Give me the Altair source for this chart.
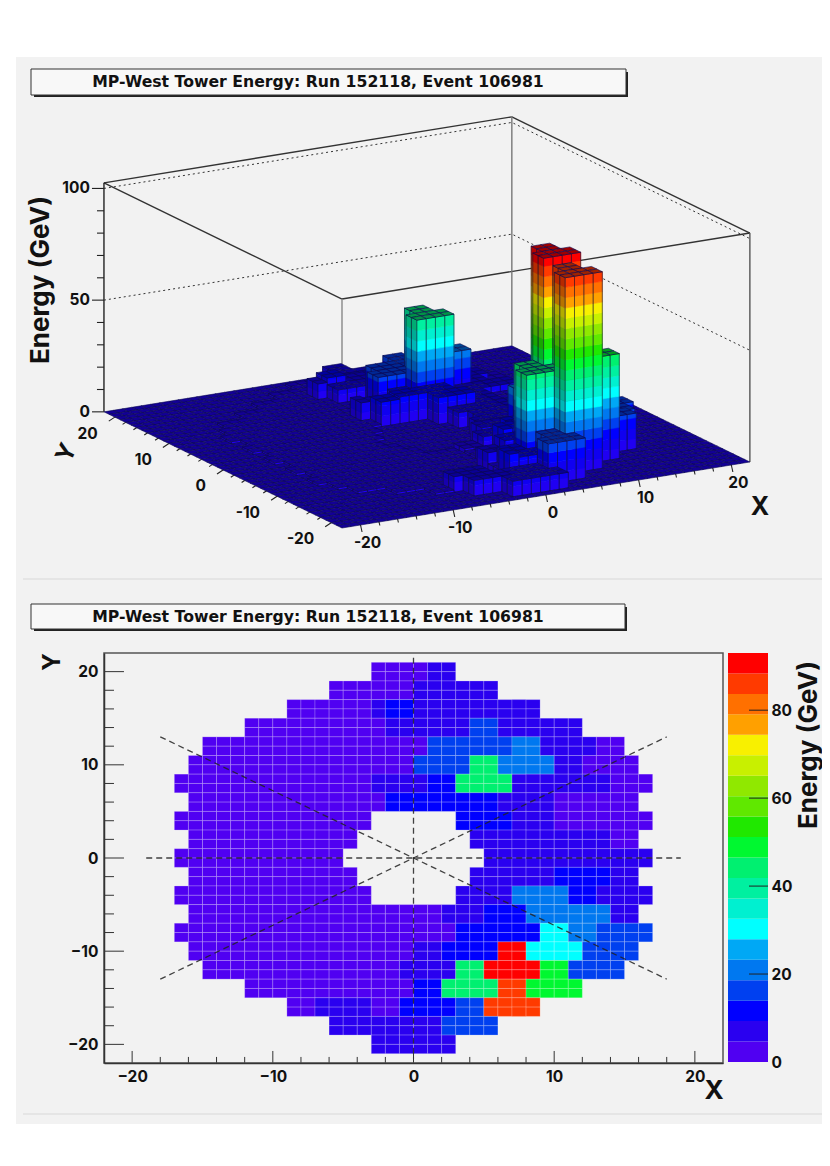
import altair as alt
import pandas as pd

TITLE = "MP-West Tower Energy: Run 152118, Event 106981"

# colour bands of the palette, bottom to top
PALETTE = [
    "#5000f2", "#2a00f0", "#0000ff", "#0040f0", "#0078f0",
    "#00a8f5", "#00ffff", "#00f0d0", "#00f0a0", "#00f070",
    "#00f830", "#20e800", "#60e800", "#90e800", "#c8f000",
    "#f8f000", "#ffa000", "#ff7000", "#ff3a00", "#ff0000",
]
E_MAX = 93

# towers: each row is 2 units tall, cells 1 unit wide
ROW_TOP = [21, 19, 17, 15, 13, 11, 9, 7, 5, 3, 1, -1, -3, -5, -7, -9, -11, -13, -15, -17, -19]
ROW_START = [-3, -6, -9, -12, -15, -16, -17, -16, -17, -16, -17, -16, -17, -16, -17, -16, -15, -12, -9, -6, -3]
H = [None]
ROW_ENERGY = [
    [1, 1, 1, 1, 6, 6],
    [1] * 6 + [6] * 6,
    [1] * 6 + [8, 10, 10] + [7] * 9,
    [1] * 10 + [7, 7] + [7] * 4 + [16, 16] + [7] * 6,
    [1] * 15 + [1] + [16] * 6 + [22, 22] + [7] * 4 + [4, 4],
    [1] * 15 + [4] + [16] * 4 + [42, 42] + [22] * 4 + [7, 7] + [4] + [1] * 3,
    [1] * 14 + [9] + [8, 8] + [6] + [10, 10] + [42] * 4 + [7] * 7 + [1] * 3,
    [1] * 14 + [11, 11] + [12] * 6 + [7] * 4 + [4] * 6,
    [1] * 14 + H * 6 + [12] * 4 + [7] * 3 + [4] * 7,
    [1] * 12 + H * 8 + [7] * 10 + [4, 4],
    [1] * 12 + H * 10 + [7] * 12,
    [1] * 12 + H * 8 + [7] * 6 + [11] * 4 + [7, 7],
    [1] * 14 + H * 6 + [8] * 4 + [22] * 4 + [12, 12] + [7] * 4,
    [1] * 16 + [3, 3] + [7] * 3 + [11] * 3 + [21] * 6 + [6, 6],
    [1] * 17 + [2] * 3 + [12] * 6 + [31, 31] + [20, 20] + [15] * 4,
    [1] * 16 + [6, 6] + [10] * 4 + [92, 92] + [31] * 4 + [15] * 4,
    [1] * 14 + [9] + [7] * 3 + [44, 44] + [92] * 4 + [47, 47] + [16] * 4,
    [1] * 11 + [4] + [11, 11] + [44] * 4 + [88, 88] + [47] * 4,
    [1, 1] + [7] * 4 + [3, 3] + [13] + [11] * 3 + [18, 18] + [88] * 4,
    [7] * 6 + [7, 7] + [18] * 4,
    [7] * 6,
]

AXIS_3D_TICKS = [-20, -10, 0, 10, 20]
AXIS_3D_MINOR = [-18, -16, -14, -12, -8, -6, -4, -2, 2, 4, 6, 8, 12, 14, 16, 18]
Z_TICKS = [0, 50, 100]
Z_MINOR = [10, 20, 30, 40, 60, 70, 80, 90]
MAP_TICKS = [-20, -10, 0, 10, 20]
MAP_MINOR = [-18, -16, -14, -12, -8, -6, -4, -2, 2, 4, 6, 8, 12, 14, 16, 18]
BAR_TICKS = [0, 20, 40, 60, 80]

SPOKE_X1 = [-19, 0, -18, -18]
SPOKE_X2 = [19, 0, 18, 18]
SPOKE_Y1 = [0, 21.5, 13, -13]
SPOKE_Y2 = [0, -21.5, -13, 13]

W, HT = 814, 1150
FONT = "Inter"
Z_TOP = 102.5

cells = {}
for top, start, vals in zip(ROW_TOP, ROW_START, ROW_ENERGY):
    for i, e in enumerate(vals):
        if e is not None:
            cells[(start + i, top - 1)] = e
            cells[(start + i, top - 2)] = e


def project(x, y, z):
    return [
        334 + 9.27 * (x + 22) - 5.41 * (y + 22),
        520 - 1.5 * (x + 22) - 2.64 * (y + 22) - 2.234 * z,
    ]


def shade(k, f):
    col = PALETTE[k]
    r, g, b = int(col[1:3], 16), int(col[3:5], 16), int(col[5:7], 16)
    red = 0.4 if k < 2 else 1.0
    return "#%02x%02x%02x" % (int(r * f * red), int(g * f), int(b * f))


def band(e):
    return min(int(e / (E_MAX / 20)), 19)


def feature(pts, fill, stroke, closed=True):
    if closed:
        geom = {"type": "Polygon", "coordinates": [pts + [pts[0]]]}
    else:
        geom = {"type": "LineString", "coordinates": pts}
    return {"type": "Feature", "geometry": geom, "properties": {"fill": fill, "stroke": stroke}}


def side(a, b, z0, e, f, out):
    # one vertical face from a to b, striped by palette band
    step = E_MAX / 20
    for k in range(band(z0), band(e) + 1):
        lo, hi = max(z0, k * step), min(e, (k + 1) * step)
        if hi <= lo:
            continue
        col = shade(k, f)
        pts = [project(*a, lo), project(*b, lo), project(*b, hi), project(*a, hi)]
        out.append(feature(pts, col, col))
    pts = [project(*a, z0), project(*b, z0), project(*b, e), project(*a, e)]
    out.append(feature(pts, "transparent", "#101030"))


faces = []
for y in range(21, -23, -1):
    for x in range(21, -23, -1):
        e = cells.get((x, y), 0)
        if e > 0:
            z_front = cells.get((x, y - 1), 0)
            z_left = cells.get((x - 1, y), 0)
            if z_left < e:
                side((x, y + 1), (x, y), z_left, e, 0.72, faces)
            if z_front < e:
                side((x, y), (x + 1, y), z_front, e, 1.0, faces)
        top_col = shade(band(e), 0.62)
        pts = [project(x, y, e), project(x + 1, y, e), project(x + 1, y + 1, e), project(x, y + 1, e)]
        faces.append(feature(pts, top_col, "#0c0850"))

box_solid = []
for a, b in [((-22, 22), (22, 22)), ((22, 22), (22, -22)), ((-22, 22), (-22, -22)), ((-22, -22), (22, -22))]:
    box_solid.append(feature([project(*a, Z_TOP), project(*b, Z_TOP)], "transparent", "#333333", closed=False))
for c, col in [((-22, 22), "#222222"), ((22, 22), "#777777"), ((-22, -22), "#888888"), ((22, -22), "#555555")]:
    box_solid.append(feature([project(*c, 0), project(*c, Z_TOP)], "transparent", col, closed=False))

box_dotted = []
for z in [50, 100]:
    pts = [project(-22, 22, z), project(22, 22, z), project(22, -22, z)]
    box_dotted.append(feature(pts, "transparent", "#333333", closed=False))

tick_lines = []
for vals, mul in [(AXIS_3D_TICKS, 1.0), (AXIS_3D_MINOR, 0.5)]:
    for v in vals:
        p = project(v, -22, 0)
        tick_lines.append(feature([p, [p[0] + 1.5 * mul, p[1] + 7 * mul]], "transparent", "#222222", closed=False))
        p = project(-22, v, 0)
        tick_lines.append(feature([p, [p[0] - 6 * mul, p[1] + 4 * mul]], "transparent", "#222222", closed=False))
for vals, ln in [(Z_TICKS, 12), (Z_MINOR, 7)]:
    for v in vals:
        p = project(-22, 22, v)
        tick_lines.append(feature([p, [p[0] - ln, p[1]]], "transparent", "#333333", closed=False))

one = pd.DataFrame({"a": [0]})
PROJ = dict(type="identity", scale=1, translate=[0, 0])
MAP_X = alt.Scale(domain=[-22, 22], range=[96, 715])
MAP_Y = alt.Scale(domain=[-22, 22], range=[1055, 645])
BAR_Y = alt.Scale(domain=[0, E_MAX], range=[1054, 645])
COLORS = alt.Scale(type="quantize", domain=[0, E_MAX], range=PALETTE)


def box(x, x2, y, y2, fill, **kw):
    return alt.Chart(one).mark_rect(fill=fill, **kw).encode(
        x=alt.value(x), x2=alt.value(x2), y=alt.value(y), y2=alt.value(y2)
    )


def label(txt, x, y, size, angle=0, align="center", font=FONT):
    return alt.Chart(one).mark_text(
        font=font, fontWeight="bold", fontSize=size, angle=angle, align=align,
        baseline="middle", color="#111111"
    ).encode(x=alt.value(x), y=alt.value(y), text=alt.value(txt))


def title_box(x, x2, y, y2):
    shadow = box(x + 3, x2 + 2, y + 3, y2 + 2, "#222222")
    face = box(x, x2, y, y2, "#f8f8f8", stroke="#333333", strokeWidth=1)
    text = label(TITLE, 310, (y + y2) / 2, 15.7, font="DejaVu Sans")
    return [shadow, face, text]


def geo(feats, **kw):
    return alt.Chart(alt.Data(values=feats)).mark_geoshape(**kw).project(**PROJ)


lego = geo(faces, strokeWidth=0.6).encode(
    fill=alt.Fill("properties.fill:N", scale=None),
    stroke=alt.Stroke("properties.stroke:N", scale=None),
)
box_lines = geo(box_solid, filled=False, strokeWidth=1.4).encode(
    stroke=alt.Stroke("properties.stroke:N", scale=None)
)
dotted = geo(box_dotted, filled=False, strokeWidth=1, strokeDash=[2, 3], stroke="#333333")
ticks3d = geo(tick_lines, filled=False, strokeWidth=1.1, stroke="#222222")

labels3d = []
for v in AXIS_3D_TICKS:
    p = project(-22, v, 0)
    labels3d.append(label(str(v), p[0] - 17, p[1] + 16.5, 15.5, align="right"))
    p = project(v, -22, 0)
    labels3d.append(label(str(v), p[0] + 7, p[1] + 18, 15.5))
for v in Z_TICKS:
    p = project(-22, 22, v)
    labels3d.append(label(str(v), p[0] - 14, p[1], 15.5, align="right"))

# heat map cells
cell_df = pd.DataFrame(
    [{"x": x, "x2": x + 1, "y": y, "y2": y + 1, "e": e} for (x, y), e in cells.items()]
)
heat = alt.Chart(cell_df).mark_rect(stroke="#ffffff", strokeOpacity=0.2, strokeWidth=1).encode(
    x=alt.X("x:Q", scale=MAP_X, axis=None),
    x2="x2:Q",
    y=alt.Y("y:Q", scale=MAP_Y, axis=None),
    y2="y2:Q",
    color=alt.Color("e:Q", scale=COLORS, legend=None),
)

spokes = alt.Chart(pd.DataFrame({"x": SPOKE_X1, "x2": SPOKE_X2, "y": SPOKE_Y1, "y2": SPOKE_Y2})).mark_rule(
    color="#222222", strokeWidth=1.3, strokeDash=[6, 4], opacity=0.85
).encode(
    x=alt.X("x:Q", scale=MAP_X, axis=None),
    x2="x2:Q",
    y=alt.Y("y:Q", scale=MAP_Y, axis=None),
    y2="y2:Q",
)

AXIS_STYLE = dict(
    ticks=False, grid=False, labelFont=FONT, labelFontWeight="bold", labelFontSize=15.5,
    labelColor="#111111", title=None, domainColor="#333333", domainWidth=1.5, zindex=1,
)
frame_df = pd.DataFrame({"x": [-22], "x2": [22], "y": [-22], "y2": [22]})
frame = alt.Chart(frame_df).mark_rect(filled=False, stroke="#555555", strokeWidth=1.5).encode(
    x=alt.X(
        "x:Q", scale=MAP_X,
        axis=alt.Axis(orient="bottom", offset=-95, values=MAP_TICKS, labelPadding=6, **AXIS_STYLE),
    ),
    x2="x2:Q",
    y=alt.Y(
        "y:Q", scale=MAP_Y,
        axis=alt.Axis(orient="left", offset=-96, values=MAP_TICKS, labelPadding=6, **AXIS_STYLE),
    ),
    y2="y2:Q",
)

x_tick_df = pd.DataFrame(
    {"t": MAP_TICKS + MAP_MINOR, "lo": -22, "hi": [-20.71] * len(MAP_TICKS) + [-21.35] * len(MAP_MINOR)}
)
x_ticks = alt.Chart(x_tick_df).mark_rule(color="#333333", strokeWidth=1).encode(
    x=alt.X("t:Q", scale=MAP_X, axis=None),
    y=alt.Y("lo:Q", scale=MAP_Y, axis=None),
    y2="hi:Q",
)
y_tick_df = pd.DataFrame(
    {"t": MAP_TICKS + MAP_MINOR, "lo": -22, "hi": [-20.58] * len(MAP_TICKS) + [-21.29] * len(MAP_MINOR)}
)
y_ticks = alt.Chart(y_tick_df).mark_rule(color="#333333", strokeWidth=1).encode(
    y=alt.Y("t:Q", scale=MAP_Y, axis=None),
    x=alt.X("lo:Q", scale=MAP_X, axis=None),
    x2="hi:Q",
)

# colour bar
step = E_MAX / 20
bar_df = pd.DataFrame(
    {"lo": [k * step for k in range(20)], "hi": [(k + 1) * step for k in range(20)], "mid": [(k + 0.5) * step for k in range(20)]}
)
colorbar = alt.Chart(bar_df).mark_rect().encode(
    x=alt.value(720),
    x2=alt.value(760),
    y=alt.Y(
        "lo:Q", scale=BAR_Y,
        axis=alt.Axis(
            orient="right", offset=-54, values=BAR_TICKS, ticks=False, domain=False, grid=False,
            labelFont=FONT, labelFontWeight="bold", labelFontSize=15.5, labelColor="#111111",
            labelPadding=3, title=None, zindex=1,
        ),
    ),
    y2="hi:Q",
    color=alt.Color("mid:Q", scale=COLORS, legend=None),
)
bar_ticks = alt.Chart(pd.DataFrame({"t": BAR_TICKS[1:]})).mark_rule(color="#222222", strokeWidth=1).encode(
    y=alt.Y("t:Q", scale=BAR_Y, axis=None),
    x=alt.value(741),
    x2=alt.value(760),
)

layers = [
    box(8, W, 49, 1116, "#f2f2f2"),
    box(15, W, 570.5, 571.5, "#d8d8d8"),
    box(15, W, 1105.5, 1106.5, "#d8d8d8"),
    *title_box(23, 618, 61, 87),
    box_lines,
    dotted,
    lego,
    ticks3d,
    *labels3d,
    label("Energy (GeV)", 33, 272, 26, angle=270),
    label("Y", 59, 445, 24, angle=295),
    label("X", 752, 499, 25),
    *title_box(23, 617, 596, 621),
    heat,
    spokes,
    x_ticks,
    y_ticks,
    frame,
    colorbar,
    bar_ticks,
    label("X", 706, 1083, 26),
    label("Y", 45, 654, 24, angle=270),
    label("Energy (GeV)", 801, 737, 26, angle=270),
]

chart = (
    alt.layer(*layers)
    .resolve_scale(x="independent", y="independent", color="independent")
    .properties(width=W, height=HT, padding=0, background="white", autosize=alt.AutoSizeParams(type="none"))
    .configure_view(stroke=None)
)

chart.save("out.html", embed_options={"renderer": "svg", "actions": False})
